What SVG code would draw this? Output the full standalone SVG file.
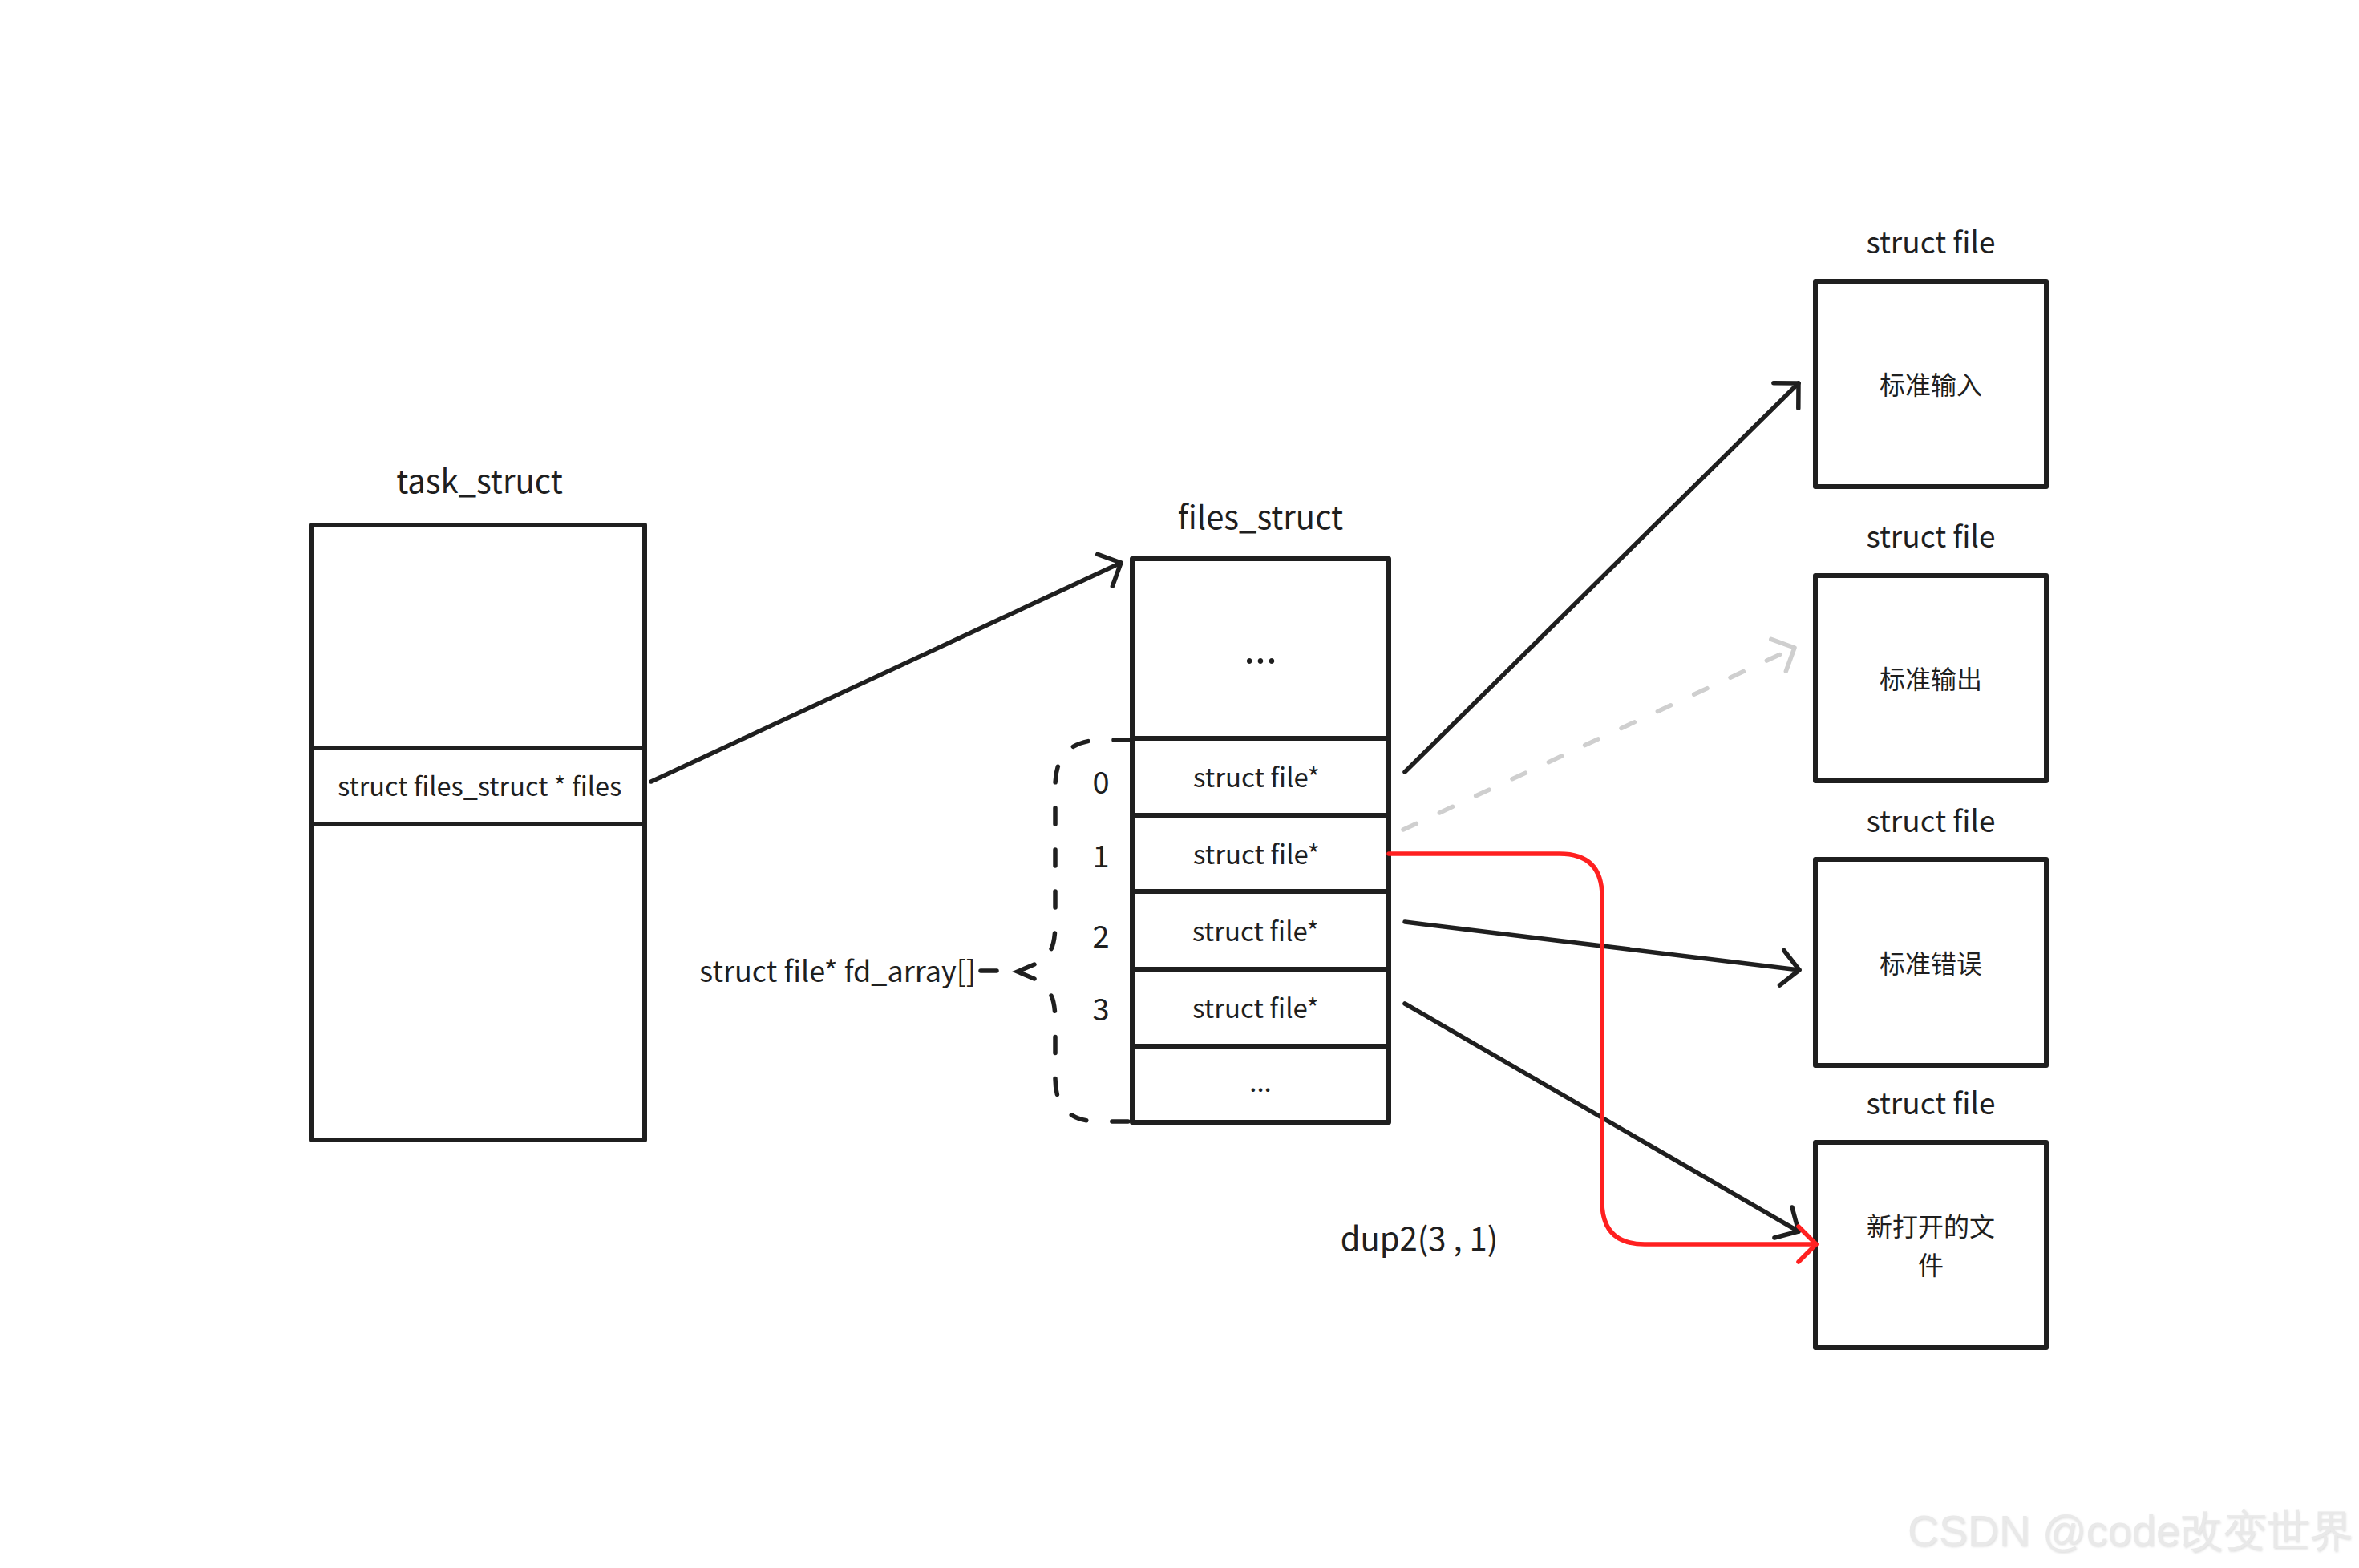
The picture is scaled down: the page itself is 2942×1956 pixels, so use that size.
<svg xmlns="http://www.w3.org/2000/svg" width="2942" height="1956" viewBox="0 0 2942 1956">
<defs>
<style>
text{font-family:"Noto Sans CJK SC","Noto Sans",sans-serif;fill:#1f1f1f;text-anchor:middle}
.box{fill:none;stroke:#1f1f1f;stroke-width:6;stroke-linejoin:round}
.div{stroke:#1f1f1f;stroke-width:6}
.t{font-size:40px}
.sf{font-size:37px}
.c{font-size:33px}
.c2{font-size:32.5px}
.dots{font-size:50px}
.n{font-size:38px}
.cn{font-size:32px}
.lbl{font-size:36px;text-anchor:end}
.edge{fill:none;stroke:#1f1f1f;stroke-width:5.5;stroke-linecap:round}
.gray{fill:none;stroke:#cfcfcf;stroke-width:5.5;stroke-linecap:round;stroke-dasharray:18 32}
.red{fill:none;stroke:#ff2020;stroke-width:5.5;stroke-linecap:round;stroke-linejoin:round}
.brace{fill:none;stroke:#1f1f1f;stroke-width:5.5;stroke-linecap:round;stroke-dasharray:20 32}
.wm{font-family:"Liberation Sans",Arial,sans-serif;font-size:54px;fill:#e9e9e9;text-anchor:start}
</style>
<filter id="sh" x="-5%" y="-20%" width="110%" height="140%">
<feDropShadow dx="1" dy="1.5" stdDeviation="0.8" flood-color="#a0a0a0" flood-opacity="0.35"/>
</filter>
<marker id="ah" markerUnits="userSpaceOnUse" markerWidth="60" markerHeight="60" viewBox="-30 -30 60 60" refX="0" refY="0" orient="auto">
<path d="M-22,-22 L0,0 L-22,22" fill="none" stroke="#1f1f1f" stroke-width="5.5" stroke-linecap="round" stroke-linejoin="round"/>
</marker>
<marker id="ahg" markerUnits="userSpaceOnUse" markerWidth="60" markerHeight="60" viewBox="-30 -30 60 60" refX="0" refY="0" orient="auto">
<path d="M-22,-22 L0,0 L-22,22" fill="none" stroke="#cfcfcf" stroke-width="5.5" stroke-linecap="round" stroke-linejoin="round"/>
</marker>
<marker id="ahr" markerUnits="userSpaceOnUse" markerWidth="60" markerHeight="60" viewBox="-30 -30 60 60" refX="0" refY="0" orient="auto">
<path d="M-22,-22 L0,0 L-22,22" fill="none" stroke="#ff2020" stroke-width="5.5" stroke-linecap="round" stroke-linejoin="round"/>
</marker>
</defs>
<rect width="2942" height="1956" fill="#fff"/>

<g id="task_struct">
<text class="t" x="598" y="615">task_struct</text>
<rect class="box" x="388" y="655" width="416" height="767"/>
<line class="div" x1="388" y1="933" x2="804" y2="933"/>
<line class="div" x1="388" y1="1028" x2="804" y2="1028"/>
<text class="c2" x="598" y="993">struct files_struct * files</text>
</g>

<g id="files_struct">
<text class="t" x="1572" y="660">files_struct</text>
<rect class="box" x="1412" y="697" width="320" height="703"/>
<line class="div" x1="1412" y1="921" x2="1732" y2="921"/>
<line class="div" x1="1412" y1="1017" x2="1732" y2="1017"/>
<line class="div" x1="1412" y1="1112" x2="1732" y2="1112"/>
<line class="div" x1="1412" y1="1209" x2="1732" y2="1209"/>
<line class="div" x1="1412" y1="1305" x2="1732" y2="1305"/>
<text class="dots" x="1572" y="827">...</text>
<text class="c" x="1567" y="982">struct file*</text>
<text class="c" x="1567" y="1078">struct file*</text>
<text class="c" x="1566" y="1174">struct file*</text>
<text class="c" x="1566" y="1270">struct file*</text>
<text class="c" x="1572" y="1362">...</text>
</g>

<g id="fd_index">
<text class="n" x="1373" y="990">0</text>
<text class="n" x="1373" y="1082">1</text>
<text class="n" x="1373" y="1182">2</text>
<text class="n" x="1373" y="1273">3</text>
</g>

<g id="fd_array">
<path class="brace" d="M1409,923 L1375,923 Q1316,923 1316,980 L1316,1150 Q1316,1180 1308,1188"/>
<path class="edge" d="M1290,1203 L1269,1212 L1290,1221"/>
<path class="brace" d="M1311,1242 Q1316,1252 1316,1275 L1316,1345 Q1316,1399 1370,1399 L1411,1399"/>
<line class="edge" x1="1223" y1="1211" x2="1243" y2="1211"/>
<text class="lbl" x="1217" y="1225">struct file* fd_array[]</text>
</g>

<g id="file_stdin">
<text class="sf" x="2408" y="316">struct file</text>
<rect class="box" x="2264" y="351" width="288" height="256"/>
<text class="cn" x="2408" y="492">标准输入</text>
</g>

<g id="file_stdout">
<text class="sf" x="2408" y="683">struct file</text>
<rect class="box" x="2264" y="718" width="288" height="256"/>
<text class="cn" x="2408" y="859">标准输出</text>
</g>

<g id="file_stderr">
<text class="sf" x="2408" y="1038">struct file</text>
<rect class="box" x="2264" y="1072" width="288" height="257"/>
<text class="cn" x="2408" y="1214">标准错误</text>
</g>

<g id="file_new">
<text class="sf" x="2408" y="1390">struct file</text>
<rect class="box" x="2264" y="1425" width="288" height="256"/>
<text class="cn" x="2408" y="1542">新打开的文</text>
<text class="cn" x="2408" y="1590">件</text>
</g>

<g id="connectors">
<line class="edge" x1="812" y1="975" x2="1398" y2="702" marker-end="url(#ah)"/>
<line class="edge" x1="1752" y1="963" x2="2243" y2="478" marker-end="url(#ah)"/>
<line class="gray" x1="1750" y1="1035" x2="2238" y2="808" marker-end="url(#ahg)"/>
<line class="edge" x1="1752" y1="1150" x2="2244" y2="1210" marker-end="url(#ah)"/>
<line class="edge" x1="1752" y1="1252" x2="2243" y2="1536" marker-end="url(#ah)"/>
<path class="red" d="M1732,1065 L1945,1065 Q1998,1065 1998,1118 L1998,1499 Q1998,1552 2051,1552 L2265,1552" marker-end="url(#ahr)"/>
</g>

<g id="label_dup2">
<text class="t" x="1770" y="1560">dup2(3 , 1)</text>
</g>

<text class="wm" x="2379" y="1928" filter="url(#sh)">CSDN @code改变世界</text>
</svg>
